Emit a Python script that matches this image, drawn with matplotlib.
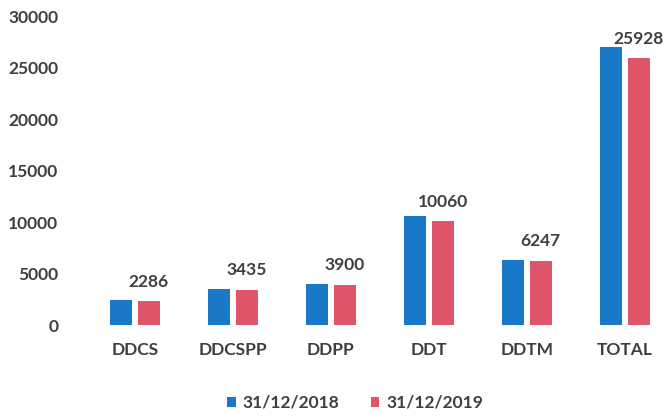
import numpy as np
import matplotlib.pyplot as plt

# ---- data ----
categories = ["DDCS", "DDCSPP", "DDPP", "DDT", "DDTM", "TOTAL"]
values_2018 = [2450, 3520, 3950, 10600, 6350, 27000]
values_2019 = [2286, 3435, 3900, 10060, 6247, 25928]
series_labels = ["31/12/2018", "31/12/2019"]

blue = "#1a78c8"
red = "#de5468"
text_col = "#3f3f3f"

plt.rcParams["font.family"] = ["Lato", "DejaVu Sans"]
plt.rcParams["font.weight"] = "bold"

fig = plt.figure(figsize=(6.68, 4.17), dpi=100)
ax = fig.add_axes([86 / 668, 1 - 325 / 417, (668 - 86) / 668, (325 - 16) / 417])

x = np.arange(len(categories))
w = 0.225
off = 0.14
ax.bar(x - off, values_2018, w, color=blue, label=series_labels[0])
ax.bar(x + off, values_2019, w, color=red, label=series_labels[1])

# labels above the 2019 bars
for xi, v in zip(x, values_2019):
    ax.text(xi + off, v + 1100, str(v), ha="center", va="bottom",
            fontsize=12.5, fontweight="bold", color=text_col)

ax.set_ylim(0, 30000)
ax.set_xlim(-0.5, (668 - 135) / 98)
ax.set_yticks(range(0, 30001, 5000))
ax.set_xticks(x)
ax.set_xticklabels(categories)
ax.tick_params(axis="both", length=0, labelsize=12.5, labelcolor=text_col)
ax.tick_params(axis="y", pad=20)
ax.tick_params(axis="x", pad=12)
for s in ax.spines.values():
    s.set_visible(False)

leg = fig.legend(loc="center", bbox_to_anchor=(355 / 668, 1 - 403 / 417), ncol=2,
                 frameon=False, fontsize=12.5, handlelength=0.5, handleheight=0.5,
                 handletextpad=0.4, columnspacing=1.8)
for t in leg.get_texts():
    t.set_color(text_col)

fig.savefig("out.png", dpi=100)
